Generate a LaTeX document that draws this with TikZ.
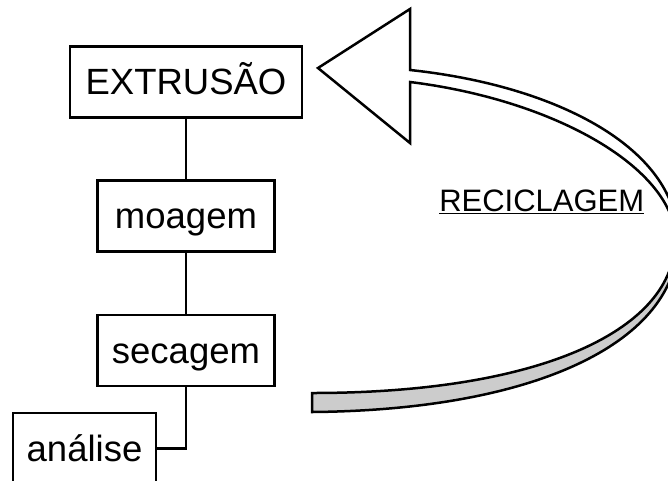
\documentclass[tikz,border=0pt]{standalone}
\usepackage{fontspec}
\setmainfont{Liberation Sans}
\usetikzlibrary{positioning}
\tikzset{stage/.style={draw,minimum height=71pt,inner sep=0pt,text height=25pt,text depth=0pt,font=\fontsize{36.5}{44}\selectfont}}

\begin{document}
\begin{tikzpicture}[x=1pt,y=-1pt,line width=2.5pt]
\useasboundingbox (0,0) rectangle (668,480);
\clip (0,0) rectangle (668,480);
% stages
\node[stage,minimum width=232pt] (extr) at (186,82) {EXTRUSÃO};
\node[stage,minimum width=177pt,below=60.5pt of extr] (moag) {moagem};
\node[stage,minimum width=177pt,below=61pt of moag] (sec) {secagem};
\node[stage,minimum width=143pt] (anal) at (84.5,448.5) {análise};
\draw (extr) -- (moag);
\draw (moag) -- (sec);
\draw (sec.south) |- (anal.east);
% recycling arrow
\path coordinate (tip) at (318,68)
      coordinate (hu) at (410,9)
      coordinate (hd) at (410,143)
      coordinate (tu) at (312,393)
      coordinate (td) at (312,412);
\draw[fill=gray!40] (td) .. controls (540,410) and (678,340) .. (678,240) -- (675,240) .. controls (675,328) and (545,393) .. (tu) -- cycle;
\draw[fill=white] (410,82) -- (hd) -- (tip) -- (hu) -- (410,70) .. controls (560,86) and (678,150) .. (678,240) -- (676,240) .. controls (674,168) and (555,100) .. (410,82) -- cycle;
\node[anchor=base west,inner sep=0pt,font=\fontsize{31}{37}\selectfont] (recic) at (438,211) {\underline{RECICLAGEM}};
\end{tikzpicture}
\end{document}
